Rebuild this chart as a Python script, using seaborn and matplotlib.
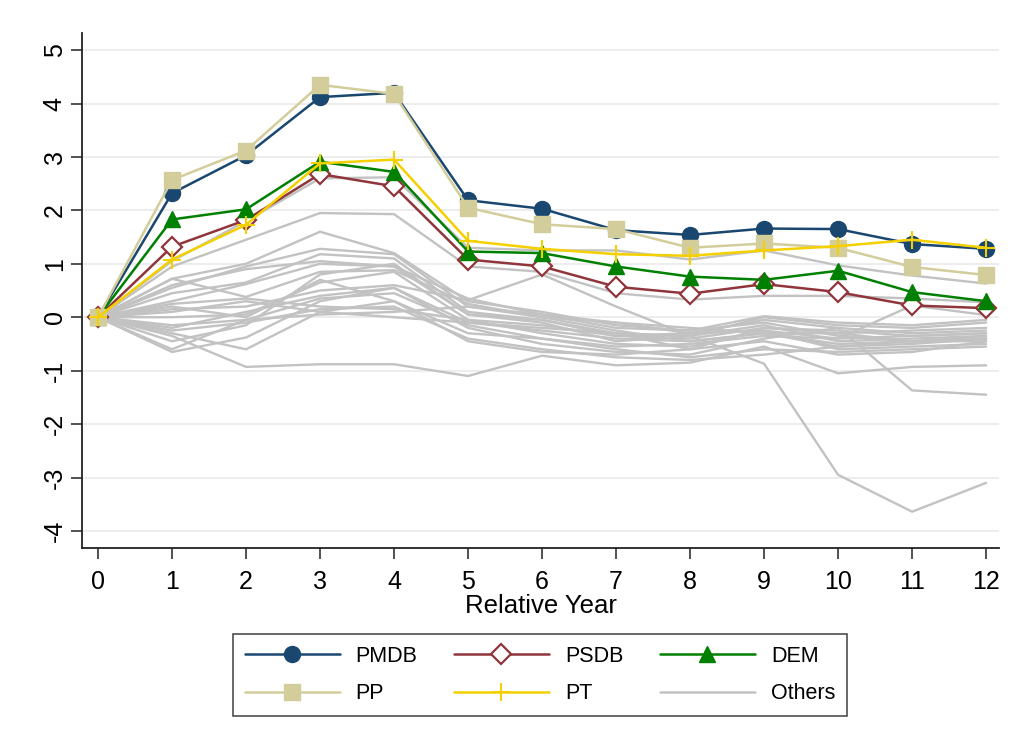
import numpy as np
import pandas as pd
import matplotlib
matplotlib.use("Agg")
import matplotlib.pyplot as plt
import seaborn as sns
from matplotlib.lines import Line2D

years = list(range(13))

pmdb = [0, 2.32, 3.03, 4.12, 4.20, 2.19, 2.03, 1.63, 1.54, 1.66, 1.65, 1.37, 1.28]
psdb = [0, 1.32, 1.82, 2.68, 2.45, 1.08, 0.95, 0.57, 0.44, 0.62, 0.47, 0.22, 0.17]
dem = [0, 1.83, 2.02, 2.91, 2.72, 1.23, 1.20, 0.95, 0.76, 0.70, 0.87, 0.47, 0.30]
pp = [0, 2.57, 3.12, 4.35, 4.18, 2.05, 1.74, 1.65, 1.30, 1.38, 1.30, 0.94, 0.79]
pt = [0, 1.08, 1.73, 2.88, 2.95, 1.43, 1.28, 1.18, 1.15, 1.25, 1.33, 1.45, 1.30]

others = [
    [0, 0.95, 1.45, 1.95, 1.93, 0.95, 0.85, 0.45, 0.33, 0.40, 0.40, 0.35, 0.28],
    [0, 1.05, 1.80, 2.60, 2.62, 1.30, 1.25, 1.25, 1.08, 1.25, 0.97, 0.78, 0.63],
    [0, 0.72, 1.00, 1.60, 1.20, 0.30, 0.10, -0.15, -0.25, -0.10, -0.35, -0.45, -0.40],
    [0, 0.55, 0.95, 1.28, 1.18, 0.20, 0.00, -0.10, -0.30, -0.05, -0.20, -0.30, -0.25],
    [0, 0.45, 0.65, 1.18, 1.10, 0.10, -0.05, -0.35, -0.40, -0.20, -0.25, -0.35, -0.30],
    [0, 0.30, 0.62, 1.00, 0.95, 0.05, -0.10, -0.45, -0.35, -0.15, -0.45, -0.40, -0.35],
    [0, 0.72, 0.38, 0.85, 0.88, 0.25, 0.00, -0.25, -0.45, -0.30, -0.30, -0.25, -0.20],
    [0, 0.15, 0.20, 0.50, 0.60, 0.32, 0.80, 0.20, -0.35, -0.87, -2.95, -3.64, -3.10],
    [0, -0.35, -0.93, -0.88, -0.88, -1.10, -0.72, -0.90, -0.85, -0.55, -1.05, -0.93, -0.90],
    [0, -0.65, -0.38, 0.30, 0.55, -0.20, -0.50, -0.65, -0.70, -0.40, -0.20, -1.37, -1.45],
    [0, -0.60, -0.05, 0.35, 0.45, -0.15, -0.40, -0.55, -0.50, -0.35, -0.40, 0.22, 0.04],
    [0, 0.00, 0.05, 0.65, 0.85, -0.05, -0.30, -0.50, -0.55, -0.25, -0.60, -0.55, -0.50],
    [0, -0.20, 0.10, 0.40, 0.55, -0.10, -0.20, -0.30, -0.60, -0.20, -0.30, -0.45, -0.45],
    [0, 0.10, 0.30, 0.10, 0.00, -0.10, -0.25, -0.40, -0.45, -0.30, -0.55, -0.50, -0.40],
    [0, 0.25, 0.35, 0.20, 0.15, -0.05, -0.15, -0.35, -0.30, -0.25, -0.40, -0.35, -0.30],
    [0, -0.15, -0.05, 0.05, 0.10, 0.20, 0.05, -0.10, -0.20, -0.30, -0.50, -0.45, -0.35],
    [0, -0.45, -0.15, 0.80, 1.00, 0.05, -0.05, -0.30, -0.35, 0.00, -0.15, -0.20, -0.10],
    [0, 0.60, 0.90, 1.05, 0.95, 0.35, 0.05, -0.20, -0.25, 0.02, -0.10, -0.15, -0.05],
    [0, -0.25, -0.10, 0.15, 0.20, -0.40, -0.60, -0.75, -0.80, -0.70, -0.55, -0.45, -0.40],
    [0, -0.30, -0.60, 0.10, 0.30, -0.30, -0.40, -0.60, -0.75, -0.60, -0.65, -0.60, -0.55],
    [0, 0.20, 0.00, 0.70, 0.30, -0.45, -0.65, -0.70, -0.60, -0.45, -0.70, -0.65, -0.45],
]

y_ticks = [-4, -3, -2, -1, 0, 1, 2, 3, 4, 5]

sns.set_theme(style="white")
plt.rcParams['font.family'] = ['Liberation Sans', 'DejaVu Sans']
plt.rcParams['text.color'] = 'black'
plt.rcParams['axes.labelcolor'] = 'black'
plt.rcParams['xtick.color'] = 'black'
plt.rcParams['ytick.color'] = 'black'

fig = plt.figure(figsize=(10.16, 7.45), dpi=100)
ax = fig.add_axes([0.0807, 0.2644, 0.903, 0.6913])

rows = []
for i, vals in enumerate(others):
    for x, v in zip(years, vals):
        rows.append({"year": x, "value": v, "unit": i})
df_o = pd.DataFrame(rows)
sns.lineplot(data=df_o, x="year", y="value", units="unit", estimator=None,
             color="#c2c2c2", lw=1.7, ax=ax, legend=False)

series = [
    ("PMDB", pmdb, dict(color="#1a476f", marker="o", markersize=11.5, mfc="#1a476f", mec="#1a476f")),
    ("PSDB", psdb, dict(color="#90353b", marker="D", markersize=10, mfc="white", mec="#90353b", mew=1.6)),
    ("DEM", dem, dict(color="#008000", marker="^", markersize=12, mfc="#008000", mec="#008000")),
    ("PP", pp, dict(color="#d3cd9c", marker="s", markersize=11.5, mfc="#d3cd9c", mec="#d3cd9c")),
    ("PT", pt, dict(color="#f5d000", marker="+", markersize=13, mew=1.5)),
]
handles = {}
for name, vals, st in series:
    d = pd.DataFrame({"year": years, "value": vals})
    sns.lineplot(data=d, x="year", y="value", ax=ax, lw=1.8, legend=False,
                 color=st["color"], marker=st["marker"], markersize=st["markersize"],
                 markerfacecolor=st.get("mfc", st["color"]),
                 markeredgecolor=st.get("mec", st["color"]),
                 markeredgewidth=st.get("mew", 1.0))
    handles[name] = Line2D([], [], color=st["color"], lw=1.8, marker=st["marker"],
                           markersize=st["markersize"],
                           markerfacecolor=st.get("mfc", st["color"]),
                           markeredgecolor=st.get("mec", st["color"]),
                           markeredgewidth=st.get("mew", 1.0))
handles["Others"] = Line2D([], [], color="#c2c2c2", lw=1.8)

ax.set_xlim(-0.216, 12.18)
ax.set_ylim(-4.32, 5.32)
ax.set_xticks(years)
ax.set_yticks(y_ticks)
ax.set_yticklabels([str(t) for t in y_ticks], rotation=90, va="center")
ax.tick_params(axis="both", labelsize=18, length=8, width=1.2, color="#333333",
               labelcolor="black", direction="out", bottom=True, left=True)
ax.tick_params(axis="y", pad=3)
ax.tick_params(axis="x", pad=8)
ax.yaxis.grid(True, color="#ececec", lw=1.3)
ax.xaxis.grid(False)
ax.set_axisbelow(True)
for s in ["top", "right"]:
    ax.spines[s].set_visible(False)
for s in ["left", "bottom"]:
    ax.spines[s].set_color("#222222")
    ax.spines[s].set_linewidth(1.3)
ax.set_xlabel("Relative Year", fontsize=18.5, labelpad=0, color="black")
ax.set_ylabel("")

order = ["PMDB", "PP", "PSDB", "PT", "DEM", "Others"]
leg = fig.legend([handles[k] for k in order], order, ncol=3,
                 loc="center", bbox_to_anchor=(540/1016, 1-675/745),
                 frameon=True, fontsize=15.5, handlelength=4.4,
                 columnspacing=1.7, handletextpad=0.75, borderpad=0.55, labelspacing=0.75,
                 fancybox=False, edgecolor="#222222", labelcolor="black")
leg.get_frame().set_linewidth(1.2)

fig.savefig("out.png", dpi=100)
